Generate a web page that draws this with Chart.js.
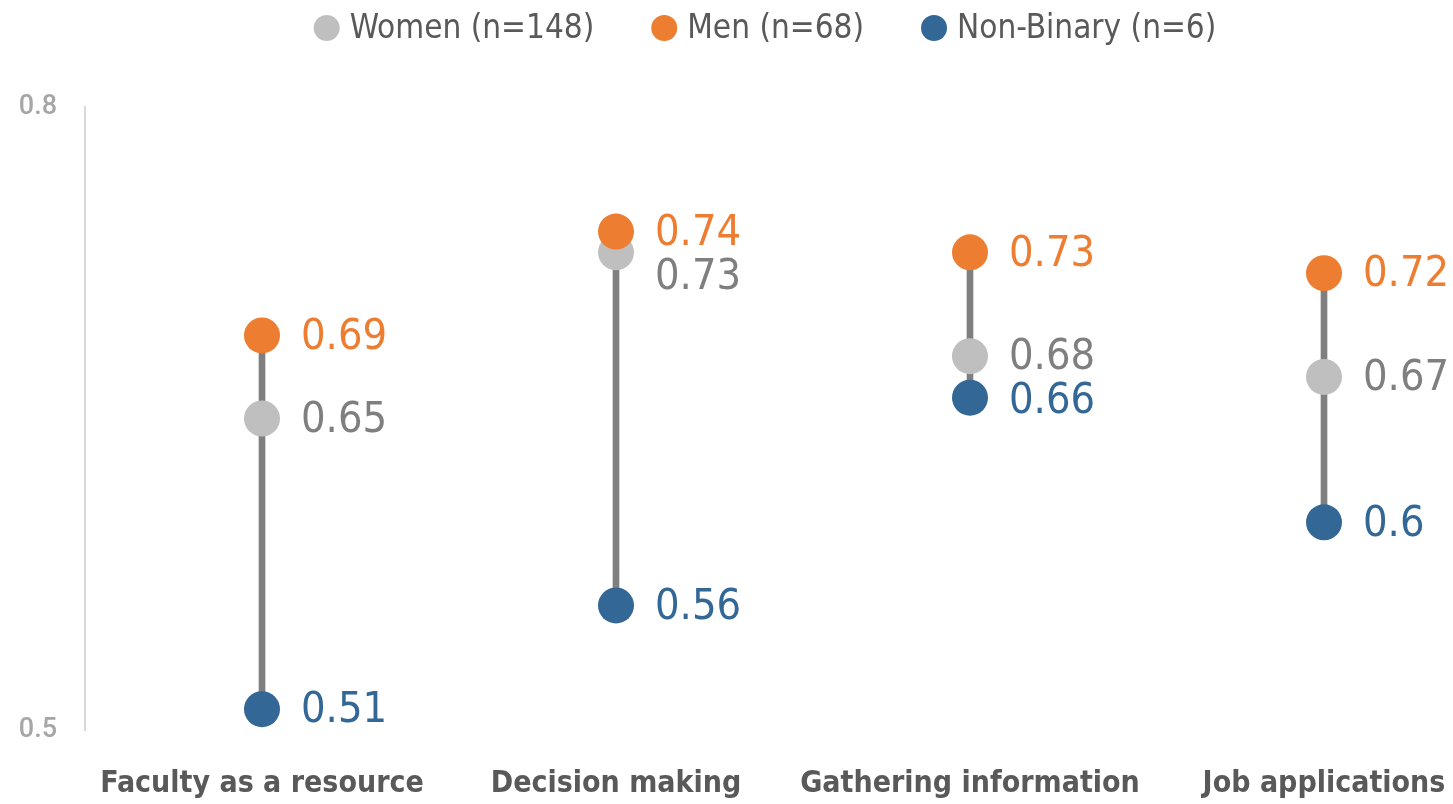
<!DOCTYPE html>
<html>
<head>
<meta charset="utf-8">
<script src="https://cdn.jsdelivr.net/npm/chart.js@4"></script>
<style>
  html, body { margin: 0; padding: 0; overflow: hidden; background: #fff; }
  #wrap { width: 1519px; height: 804px; position: relative; }
</style>
</head>
<body>
<div id="wrap"><canvas id="gapChart"></canvas></div>
<script>
const categories = ['Faculty as a resource', 'Decision making', 'Gathering information', 'Job applications'];
const women = [0.65, 0.73, 0.68, 0.67];
const men = [0.69, 0.74, 0.73, 0.72];
const nonBinary = [0.51, 0.56, 0.66, 0.60];
const yTicks = [0.5, 0.8];
const seriesNames = ['Women (n=148)', 'Men (n=68)', 'Non-Binary (n=6)'];

const colors = {
  women: '#bfbfbf',
  womenText: '#7f7f7f',
  men: '#ed7d31',
  nb: '#336796',
  stem: '#7f7f7f',
  text: '#595959',
  tick: '#a6a6a6',
  axis: '#d9d9d9'
};
const narrow = '"Liberation Sans Narrow", "DejaVu Sans Condensed", sans-serif';

// gray stem from lowest to highest value in each group
const ranges = categories.map((c, i) => {
  const vals = [women[i], men[i], nonBinary[i]];
  return [Math.min(...vals), Math.max(...vals)];
});

// legend drawn by hand so spacing matches
const legendPlugin = {
  id: 'topLegend',
  afterDraw(chart) {
    const ctx = chart.ctx;
    ctx.save();
    ctx.font = '33px ' + narrow;
    ctx.textBaseline = 'middle';
    const items = [0, 1, 2].map(i => {
      const ds = chart.data.datasets[i];
      return { text: ds.label, color: ds.backgroundColor, w: ctx.measureText(ds.label).width };
    });
    const r = 13, gapDot = 10, gapItem = 57;
    let total = 0;
    items.forEach((it, k) => { total += 2 * r + gapDot + it.w + (k < items.length - 1 ? gapItem : 0); });
    let x = 765 - total / 2;
    const y = 28;
    items.forEach(it => {
      ctx.fillStyle = it.color;
      ctx.beginPath();
      ctx.arc(x + r, y, r, 0, Math.PI * 2);
      ctx.fill();
      x += 2 * r + gapDot;
      ctx.fillStyle = colors.text;
      ctx.textAlign = 'left';
      ctx.fillText(it.text, x, y + 1);
      x += it.w + gapItem;
    });
    ctx.restore();
  }
};

// value labels to the right of each dot, nudged apart when they collide
const valueLabels = {
  id: 'valueLabels',
  afterDatasetsDraw(chart) {
    const ctx = chart.ctx;
    ctx.save();
    ctx.font = '43px ' + narrow;
    ctx.textAlign = 'left';
    ctx.textBaseline = 'middle';
    const textColors = [colors.womenText, colors.men, colors.nb];
    categories.forEach((c, i) => {
      const labels = [0, 1, 2].map(d => {
        const pt = chart.getDatasetMeta(d).data[i];
        return { x: pt.x, y: pt.y, v: chart.data.datasets[d].data[i], color: textColors[d] };
      }).sort((a, b) => a.y - b.y);
      for (let k = 1; k < labels.length; k++) {
        if (labels[k].y - labels[k - 1].y < 42) labels[k].y = labels[k - 1].y + 44;
      }
      labels.forEach(l => {
        ctx.fillStyle = l.color;
        ctx.fillText(String(l.v), l.x + 39, l.y + 2);
      });
    });
    ctx.restore();
  }
};

const ctx = document.getElementById('gapChart').getContext('2d');
new Chart(ctx, {
  data: {
    labels: categories,
    datasets: [
      { type: 'line', label: seriesNames[0], data: women, showLine: false, order: 3,
        backgroundColor: colors.women, borderColor: colors.women, pointRadius: 18, pointHoverRadius: 18, borderWidth: 0 },
      { type: 'line', label: seriesNames[1], data: men, showLine: false, order: 1,
        backgroundColor: colors.men, borderColor: colors.men, pointRadius: 18, pointHoverRadius: 18, borderWidth: 0 },
      { type: 'line', label: seriesNames[2], data: nonBinary, showLine: false, order: 2,
        backgroundColor: colors.nb, borderColor: colors.nb, pointRadius: 18, pointHoverRadius: 18, borderWidth: 0 },
      { type: 'bar', label: 'range', data: ranges, order: 10,
        backgroundColor: colors.stem, barThickness: 6, borderSkipped: false }
    ]
  },
  options: {
    responsive: true,
    maintainAspectRatio: false,
    animation: false,
    layout: { padding: { top: 107, left: 0, right: 0, bottom: 0 } },
    plugins: {
      legend: { display: false },
      tooltip: { enabled: false }
    },
    scales: {
      x: {
        grid: { display: false },
        border: { display: false },
        ticks: { color: colors.text, font: { family: narrow, size: 30, weight: 'bold' }, padding: 28, maxRotation: 0, autoSkip: false },
        afterFit(scale) { scale.height = 74; scale.paddingRight = 0; }
      },
      y: {
        min: 0.5,
        max: 0.8,
        grid: { display: false },
        border: { display: true, color: colors.axis, width: 2 },
        afterBuildTicks(scale) { scale.ticks = yTicks.map(v => ({ value: v })); },
        ticks: { color: colors.tick, font: { family: 'Roboto, sans-serif', size: 27, weight: '500' }, padding: 20 },
        afterFit(scale) { scale.width = 85; }
      }
    }
  },
  plugins: [legendPlugin, valueLabels]
});
</script>
</body>
</html>
